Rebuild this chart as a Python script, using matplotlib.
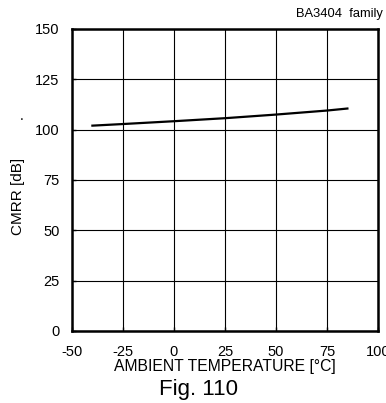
import matplotlib
matplotlib.use('Agg')
import matplotlib.pyplot as plt

plt.rcParams['font.family'] = ['Liberation Sans', 'DejaVu Sans']
plt.rcParams['axes.unicode_minus'] = False

# curve
temp = [-40, -25, 0, 25, 50, 75, 85]
cmrr = [102.0, 102.8, 104.2, 105.7, 107.5, 109.5, 110.5]

x_ticks = [-50, -25, 0, 25, 50, 75, 100]
y_ticks = [0, 25, 50, 75, 100, 125, 150]

fig = plt.figure(figsize=(3.86, 4.03), dpi=100)
ax = fig.add_axes([72/386, 1 - 331/403, 306/386, 302/403])

ax.plot(temp, cmrr, color='black', lw=1.6)

ax.set_xlim(-50, 100)
ax.set_ylim(0, 150)
ax.set_xticks(x_ticks)
ax.set_yticks(y_ticks)
ax.grid(True, color='black', lw=0.8)
for s in ax.spines.values():
    s.set_linewidth(1.8)
ax.tick_params(direction='in', length=3, width=1, labelsize=10.5)
ax.tick_params(axis='x', pad=10)
ax.tick_params(axis='y', pad=9)

ax.set_xlabel('AMBIENT TEMPERATURE [°C]', fontsize=11.3, labelpad=0)
ax.set_ylabel('CMRR [dB]', fontsize=11)
ax.yaxis.set_label_coords(-0.154, 0.444)

fig.text(383/386, 1 - 14/403, 'BA3404  family', ha='right', va='center', fontsize=9.3)
fig.text(198/386, 1 - 390/403, 'Fig. 110', ha='center', va='center', fontsize=16)
fig.text(22/386, 1 - 116/403, '.', ha='center', va='center', fontsize=10)

fig.savefig('out.png', dpi=100)
